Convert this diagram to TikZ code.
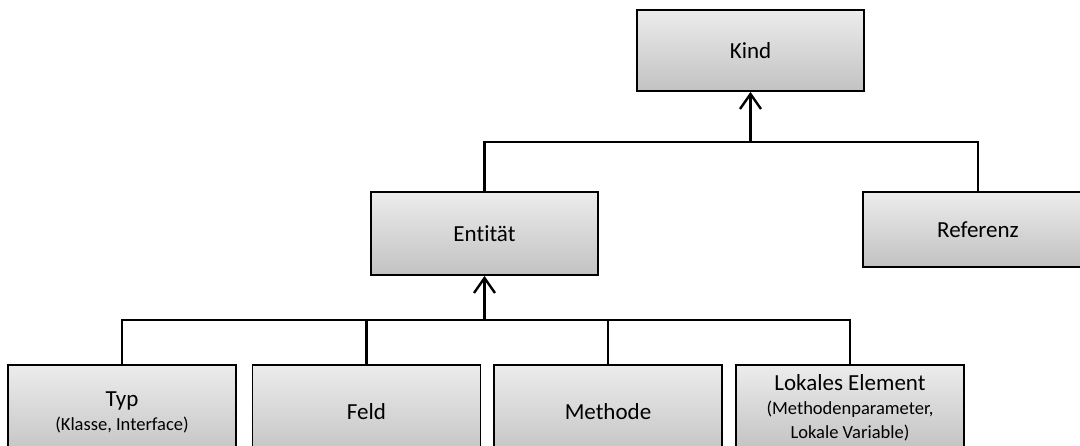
\documentclass[tikz,border=0pt]{standalone}
\usepackage{fontspec}
\setmainfont{Carlito}[Ligatures=NoCommon]
\usetikzlibrary{arrows.meta}
\definecolor{boxtop}{RGB}{236,236,236}
\definecolor{boxbot}{RGB}{194,194,194}
\begin{document}
\begin{tikzpicture}[x=1pt,y=-1pt,
  box/.style={draw=black, line width=1.8pt, top color=boxtop, bottom color=boxbot,
    inner sep=0pt, align=center, font=\fontsize{23}{24}\selectfont},
  conn/.style={line width=2.4pt},
  arr/.style={conn, -{Straight Barb[length=15pt,width=21pt,line width=2.4pt]}}
]
\useasboundingbox (0,0) rectangle (1080,445);
\begin{scope}
\clip (0,0) rectangle (1080,445);
\node[box, minimum width=227pt, minimum height=81pt] (kind) at (750.5,50.5) {Kind};
\node[box, minimum width=227pt, minimum height=83pt] (ent) at (484.5,233.5) {Entität};
\node[box, minimum width=230pt, minimum height=75pt] (ref) at (978,229.5) {Referenz};
\node[box, minimum width=228pt, minimum height=94pt] (typ) at (122,412)
  {Typ\\{\fontsize{18.5}{24}\selectfont (Klasse, Interface)}};
\node[box, minimum width=228pt, minimum height=94pt] (feld) at (366.5,412) {Feld};
\node[box, minimum width=228pt, minimum height=94pt] (meth) at (608,412) {Methode};
\node[box, minimum width=228pt, minimum height=86pt] (lok) at (850,408)
  {Lokales Element\\{\fontsize{18.5}{23}\selectfont (Methodenparameter,}\\{\fontsize{18.5}{23}\selectfont Lokale Variable)}};
\coordinate (j1) at (750.5,142);
\coordinate (j2) at (484.5,320);
\draw[conn] (ent.north) |- (j1) -| (ref.north);
\draw[arr] (j1) -- (kind.south);
\draw[conn] (typ.north) |- (j2) -| (lok.north);
\draw[conn] (feld.north) -- (feld.north |- j2);
\draw[conn] (meth.north) -- (meth.north |- j2);
\draw[arr] (j2) -- (ent.south);
\end{scope}
\end{tikzpicture}
\end{document}
